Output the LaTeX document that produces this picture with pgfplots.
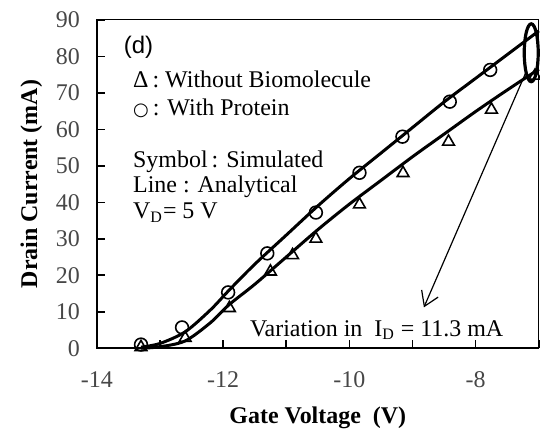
\documentclass[border=0pt]{standalone}
\usepackage{fontspec}
\setmainfont{Liberation Serif}
\newfontfamily\sansf{Liberation Sans}
\newfontfamily\symf{DejaVu Sans}
\usepackage{pgfplots}
\pgfplotsset{compat=1.18}
\usetikzlibrary{calc,arrows.meta}

\begin{document}
\begin{tikzpicture}
\begin{axis}[
    name=ax,
    scale only axis,
    width=221.5pt, height=164.5pt,
    xmin=-14, xmax=-7, ymin=0, ymax=90,
    xtick={-14,-12,-10,-8},
    minor xtick={-13,-11,-9,-7},
    ytick={0,10,...,90},
    tick align=inside,
    tick pos=left,
    major tick length=4pt, minor tick length=4pt,
    tick style={black, line width=0.8pt},
    axis line style={line width=0.5pt},
    /pgf/number format/assume math mode=true,
    ticklabel style={font=\fontsize{12}{14}\selectfont, text=black!72},
    xticklabel style={yshift=-8pt},
    yticklabel style={xshift=-5pt},
    label style={font=\fontsize{12}{14}\selectfont\bfseries},
    xlabel={Gate Voltage\enspace(V)},
    xlabel style={yshift=-3pt},
    ylabel={Drain Current (mA)},
    clip=false,
]
% heavier left and bottom spines
\draw[line width=1.2pt] (rel axis cs:0,1) -- (rel axis cs:0,0) -- (rel axis cs:1,0);

% analytical lines
\addplot[black, line width=1.5pt, smooth] coordinates {
    (-13.3,0.3)(-13,1.3)(-12.6,4.5)(-12.2,10.5)(-11.9,16)(-11.5,23)
    (-11,31)(-10.5,39)(-10,46.5)(-9.5,53.5)(-9,60.5)(-8.5,67.5)(-8,74)
    (-7.5,80.5)(-7,87)};
\addplot[black, line width=1.5pt, smooth] coordinates {
    (-13.3,0)(-13,0.4)(-12.6,2)(-12.2,7)(-11.9,12)(-11.5,17.5)
    (-11,25)(-10.5,32.5)(-10,39.5)(-9.5,46)(-9,52.5)(-8.5,58.7)
    (-8,64.9)(-7.5,70.8)(-7,76.5)};

% simulated points
\addplot[only marks, mark=o, mark size=3.2pt, mark options={line width=0.8pt}] coordinates {
    (-13.3,1)(-12.65,5.7)(-11.92,15.3)(-11.3,26)(-10.53,37.2)
    (-9.84,48.1)(-9.16,58)(-8.41,67.6)(-7.77,76.3)};
\addplot[only marks, mark=triangle, mark size=3.4pt, mark options={line width=0.8pt}] coordinates {
    (-13.3,0.3)(-12.6,2.8)(-11.9,11)(-11.25,21)(-10.9,25.5)(-10.53,30)
    (-9.84,39.4)(-9.15,48)(-8.43,56.6)(-7.75,65.4)(-7.06,74.7)};

% annotations
\draw[line width=1.6pt] (axis cs:-7.12,81) ellipse [x radius=3.5pt, y radius=14.5pt];
\draw[line width=0.6pt, -{Straight Barb[length=7pt,width=9pt]}] (axis cs:-7.2,75.8) -- (axis cs:-8.82,11.2);

\node[anchor=center, font=\sansf\fontsize{12}{14}\selectfont] at (axis cs:-13.34,82.6) {(d)};
\begin{scope}[every node/.style={anchor=west, font=\fontsize{12}{14}\selectfont, inner sep=0pt}]
\node at (axis cs:-13.43,73.6) {Δ\,: Without Biomolecule};
\node at (axis cs:-13.43,65.9) {{\symf\fontsize{9}{10}\selectfont ○}\,: With Protein};
\node at (axis cs:-13.43,51.1) {Symbol\,: Simulated};
\node at (axis cs:-13.43,44.3) {Line : Analytical};
\node at (axis cs:-13.43,37.2) {V\textsubscript{D}= 5 V};
\node at (axis cs:-11.58,5.0) {Variation in\enspace I\textsubscript{D} = 11.3 mA};
\end{scope}
\end{axis}
\pgfresetboundingbox
\path ($(ax.south west)+(-48.5pt,-40pt)$) rectangle ($(ax.north east)+(0.6pt,10pt)$);
\end{tikzpicture}
\end{document}
